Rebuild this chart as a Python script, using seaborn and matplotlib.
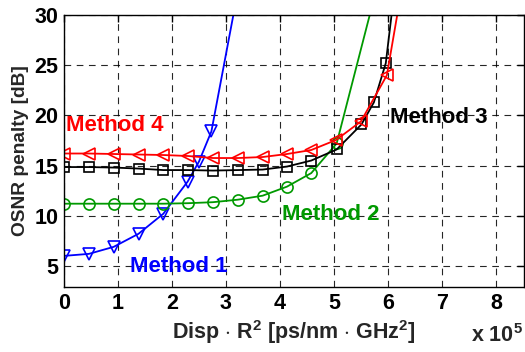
import numpy as np
import pandas as pd
import matplotlib
matplotlib.use("Agg")
import matplotlib.pyplot as plt
import seaborn as sns

# ---------------- data (x in units of 1e5 ps/nm*GHz^2) ----------------
x_m1 = [0, 0.46, 0.92, 1.38, 1.84, 2.29, 2.50, 2.73, 3.20]
y_m1 = [6.0, 6.2, 6.9, 8.2, 10.2, 13.4, 15.4, 18.4, 31.8]

x_m2 = [0, 0.46, 0.92, 1.38, 1.84, 2.30, 2.76, 3.22, 3.68, 4.13, 4.58, 5.05, 5.95]
y_m2 = [11.2, 11.2, 11.2, 11.2, 11.2, 11.25, 11.35, 11.6, 12.0, 12.9, 14.25, 17.2, 36.0]

x_m3 = [0, 0.46, 0.92, 1.38, 1.84, 2.30, 2.76, 3.22, 3.68, 4.13, 4.58, 5.05, 5.51, 5.74, 5.96, 6.20]
y_m3 = [14.85, 14.85, 14.8, 14.7, 14.55, 14.55, 14.5, 14.55, 14.6, 14.9, 15.5, 16.6, 19.1, 21.3, 25.2, 36.0]

x_m4 = [0, 0.46, 0.92, 1.38, 1.84, 2.30, 2.76, 3.22, 3.68, 4.13, 4.58, 5.04, 5.50, 5.98, 6.30]
y_m4 = [16.2, 16.2, 16.15, 16.1, 16.05, 15.95, 15.75, 15.75, 15.85, 16.15, 16.55, 17.55, 19.4, 24.0, 34.0]

series_names = ["Method 1", "Method 2", "Method 3", "Method 4"]
series_colors = ["#0000ff", "#009900", "#000000", "#ff0000"]
series_markers = ["v", "o", "s", "<"]

xticks = [0, 1, 2, 3, 4, 5, 6, 7, 8]
yticks = [5, 10, 15, 20, 25, 30]

# ---------------- style ----------------
sns.set_style("white")
plt.rcParams["font.family"] = ["Liberation Sans", "DejaVu Sans"]
plt.rcParams["font.weight"] = "bold"
plt.rcParams["mathtext.fontset"] = "custom"
plt.rcParams["mathtext.rm"] = "Liberation Sans:bold"
plt.rcParams["mathtext.bf"] = "Liberation Sans:bold"
plt.rcParams["mathtext.it"] = "Liberation Sans:bold"
plt.rcParams["mathtext.default"] = "bf"

fig = plt.figure(figsize=(5.25, 3.52), dpi=100)
ax = fig.add_axes([64 / 525, 1 - 287 / 352, 460 / 525, 272 / 352])

xs = [x_m1, x_m2, x_m3, x_m4]
ys = [y_m1, y_m2, y_m3, y_m4]
msizes = [9, 8, 7, 9]
for xv, yv, c, m, ms in zip(xs, ys, series_colors, series_markers, msizes):
    sns.lineplot(x=xv, y=yv, ax=ax, color=c, marker=m, markersize=ms,
                 markerfacecolor="none", markeredgecolor=c, markeredgewidth=1.2,
                 linewidth=1.3, sort=False, estimator=None, legend=False)

ax.set_xlim(0, 8.52)
ax.set_ylim(2.9, 30)
ax.set_xticks(xticks)
ax.set_yticks(yticks)
ax.set_xticklabels([str(t) for t in xticks], fontsize=15.5, fontweight="bold")
ax.set_yticklabels([str(t) for t in yticks], fontsize=15.5, fontweight="bold")
ax.tick_params(direction="in", length=5, width=1, top=True, right=True, pad=4, colors="k")
ax.grid(True, color="k", linestyle=(0, (6, 5)), linewidth=0.8, alpha=0.85)
for s in ax.spines.values():
    s.set_color("k")
    s.set_linewidth(1.0)
    s.set_visible(True)

ax.set_xlabel(r"Disp $\cdot$ R$^2$ [ps/nm $\cdot$ GHz$^2$]", fontsize=15.5, fontweight="bold", labelpad=3)
ax.set_ylabel("OSNR penalty [dB]", fontsize=13.8, fontweight="bold", labelpad=4)

fig.text(471 / 525, 1 - 336 / 352, r"x 10$^5$", fontsize=15.5, fontweight="bold", va="center", ha="left")

label_pos = [(1.22, 4.9), (4.04, 10.1), (6.04, 19.8), (0.04, 19.0)]
for name, c, (tx, ty) in zip(series_names, series_colors, label_pos):
    ax.text(tx, ty, name, color=c, fontsize=16, fontweight="bold", va="center", ha="left")

fig.savefig("out.png", dpi=100)
